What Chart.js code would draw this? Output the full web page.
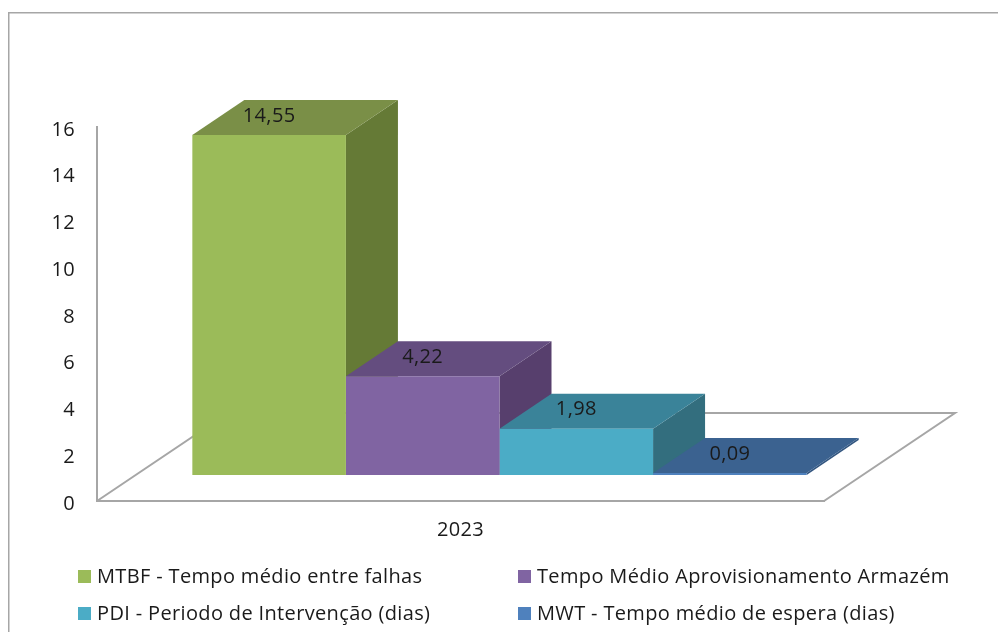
<!DOCTYPE html>
<html>
<head>
<meta charset="utf-8">
<title>Indicadores 2023</title>
<script src="https://cdn.jsdelivr.net/npm/chart.js@4"></script>
<style>
	html, body { margin:0; padding:0; background:#fff; overflow:hidden; }
	canvas { display:block; }
</style>
</head>
<body>
<canvas id="chart" width="998" height="632"></canvas>
<script>
var categories = ['2023'];
var seriesNames = [
	'MTBF - Tempo médio entre falhas',
	'Tempo Médio Aprovisionamento Armazém',
	'PDI - Periodo de Intervenção (dias)',
	'MWT - Tempo médio de espera (dias)'
];
var seriesValues = [14.55, 4.22, 1.98, 0.09];
var valueLabels = ['14,55', '4,22', '1,98', '0,09'];
var frontColors = ['#9bbb59', '#8064a2', '#4bacc6', '#4f81bd'];
var topColors = ['#7a8f47', '#644d7f', '#3a8399', '#3b6290'];
var sideColors = ['#657a36', '#573f6d', '#336e7e', '#335680'];

var FONT = '"Open Sans", sans-serif';
var GREY = '#a6a6a6';
var TEXT = '#1a1a1a';
// 3d look: bar depth, and where the bars sit on the floor
var depth = { x:52, y:35 };
var floor = { x:131, y:88 };
var shift = { x:39, y:26 };

var view3d = {
	id:'view3d',
	beforeDraw:function(chart){
		var ctx = chart.ctx;
		ctx.letterSpacing = '0.35px';
		ctx.save();
		ctx.fillStyle = '#fff';
		ctx.fillRect(0, 0, chart.width, chart.height);
		ctx.strokeStyle = GREY;
		ctx.lineWidth = 1.5;
		ctx.strokeRect(8.75, 12.75, chart.width + 50, chart.height + 50);
		ctx.restore();
	},
	beforeDatasetsDraw:function(chart){
		var ctx = chart.ctx;
		var area = chart.chartArea;
		ctx.save();
		ctx.strokeStyle = GREY;
		ctx.lineWidth = 2;
		ctx.beginPath();
		ctx.moveTo(area.left, area.bottom);
		ctx.lineTo(area.left + floor.x, area.bottom - floor.y);
		ctx.lineTo(area.right + floor.x, area.bottom - floor.y);
		ctx.lineTo(area.right, area.bottom);
		ctx.stroke();
		ctx.restore();

		// stays translated so the library draws the front faces in the same place
		ctx.save();
		ctx.translate(shift.x, -shift.y);
		chart.data.datasets.forEach(function(ds, i){
			var bar = chart.getDatasetMeta(i).data[0];
			var left = bar.x - bar.width / 2;
			var right = bar.x + bar.width / 2;
			ctx.fillStyle = sideColors[i];
			ctx.beginPath();
			ctx.moveTo(right, bar.y);
			ctx.lineTo(right + depth.x, bar.y - depth.y);
			ctx.lineTo(right + depth.x, bar.base - depth.y);
			ctx.lineTo(right, bar.base);
			ctx.closePath();
			ctx.fill();
			ctx.fillStyle = topColors[i];
			ctx.beginPath();
			ctx.moveTo(left, bar.y);
			ctx.lineTo(left + depth.x, bar.y - depth.y);
			ctx.lineTo(right + depth.x, bar.y - depth.y);
			ctx.lineTo(right, bar.y);
			ctx.closePath();
			ctx.fill();
		});
	},
	afterDatasetsDraw:function(chart){
		var ctx = chart.ctx;
		ctx.font = '20px ' + FONT;
		ctx.fillStyle = TEXT;
		ctx.textAlign = 'center';
		ctx.textBaseline = 'middle';
		chart.data.datasets.forEach(function(ds, i){
			var bar = chart.getDatasetMeta(i).data[0];
			ctx.fillText(valueLabels[i], bar.x, bar.y - 19);
		});
		ctx.restore();
	},
	afterDraw:function(chart){
		var ctx = chart.ctx;
		var columns = [78, 518];
		var rows = [576, 613];
		ctx.save();
		ctx.font = '20px ' + FONT;
		ctx.textBaseline = 'middle';
		ctx.textAlign = 'left';
		seriesNames.forEach(function(name, i){
			var x = columns[i % 2];
			var y = rows[Math.floor(i / 2)];
			ctx.fillStyle = frontColors[i];
			ctx.fillRect(x, y - 6, 13, 13);
			ctx.fillStyle = TEXT;
			ctx.fillText(name, x + 19, y + 1);
		});
		ctx.restore();
	}
};

var datasets = seriesNames.map(function(name, i){
	return {
		label:name,
		data:[seriesValues[i]],
		backgroundColor:frontColors[i],
		borderWidth:0
	};
});

new Chart(document.getElementById('chart').getContext('2d'), {
	type:'bar',
	data:{ labels:categories, datasets:datasets },
	plugins:[view3d],
	options:{
		responsive:false,
		animation:false,
		layout:{ padding:{ top:127, right:174, bottom:0, left:0 } },
		categoryPercentage:0.845,
		barPercentage:1,
		plugins:{ legend:{ display:false }, tooltip:{ enabled:false } },
		scales:{
			x:{
				afterFit:function(scale){ scale.height = 131; },
				grid:{ display:false, drawTicks:false },
				border:{ color:GREY, width:2 },
				ticks:{ color:TEXT, padding:17, font:{ family:FONT, size:20 } }
			},
			y:{
				min:0,
				max:16,
				afterFit:function(scale){ scale.width = 97; },
				grid:{ display:false, drawTicks:false },
				border:{ color:GREY, width:2 },
				ticks:{ stepSize:2, color:TEXT, padding:22, labelOffset:3, font:{ family:FONT, size:20 } }
			}
		}
	}
});
</script>
</body>
</html>
